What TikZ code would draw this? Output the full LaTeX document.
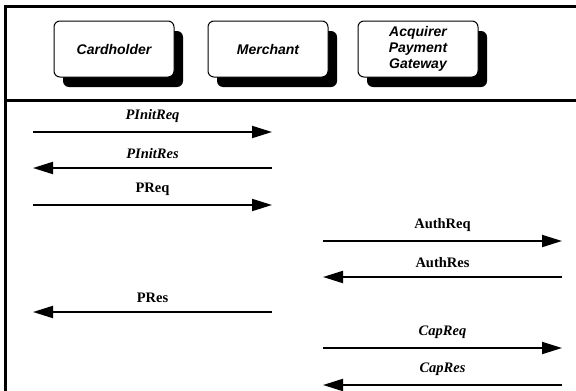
\documentclass[tikz,border=0pt]{standalone}
\usepackage{fontspec}
\setmainfont{Liberation Serif}
\setsansfont{Liberation Sans}
\usetikzlibrary{arrows.meta, shadows, positioning}

\begin{document}
\begin{tikzpicture}[x=1pt, y=-1pt,
            party/.style={rectangle, rounded corners=6pt, draw=black, line width=1pt, fill=white, minimum width=120pt, minimum height=56pt, align=center, font=\sffamily\bfseries\itshape\fontsize{14}{16}\selectfont, drop shadow={shadow xshift=9pt, shadow yshift=-10pt, fill=black, opacity=1}},
            msg/.style={line width=2pt, -{Triangle[length=20pt,width=12pt]}},
            lbl/.style={font=\bfseries\fontsize{14.5}{16}\selectfont, above=5pt},
            ilbl/.style={lbl, font=\bfseries\itshape\fontsize{14.5}{16}\selectfont},
            frame/.style={line width=3pt, line join=miter}
        ]
        \useasboundingbox (0,0) rectangle (576,391);

% Frame
            \draw[frame] (576,6) -- (5,6) -- (5,391);
            \draw[frame] (5,100) -- (576,100);

% Parties
            \node[party] (card) at (114,49) {Cardholder};
            \node[party] (merch) at (268,49) {Merchant};
            \node[party] (gate) at (418,49) {Acquirer\\Payment\\Gateway};

% Message end points
            \coordinate (chA) at (33,132);   \coordinate (meA) at (272,132);
            \coordinate (chB) at (33,168);   \coordinate (meB) at (272,168);
            \coordinate (chC) at (33,205);   \coordinate (meC) at (272,205);
            \coordinate (meD) at (323,241);  \coordinate (gwD) at (562,241);
            \coordinate (meE) at (323,277);  \coordinate (gwE) at (562,277);
            \coordinate (chF) at (33,312);   \coordinate (meF) at (272,312);
            \coordinate (meG) at (323,348);  \coordinate (gwG) at (562,348);
            \coordinate (meH) at (323,385);  \coordinate (gwH) at (562,385);

% Messages
            \draw[msg] (chA) -- node[ilbl] (pinitreq) {PInitReq} (meA);
            \draw[msg] (meB) -- node[ilbl] (pinitres) {PInitRes} (chB);
            \draw[msg] (chC) -- node[lbl] (preq) {PReq} (meC);
            \draw[msg] (meD) -- node[lbl] (authreq) {AuthReq} (gwD);
            \draw[msg] (gwE) -- node[lbl] (authres) {AuthRes} (meE);
            \draw[msg] (meF) -- node[lbl] (pres) {PRes} (chF);
            \draw[msg] (meG) -- node[ilbl] (capreq) {CapReq} (gwG);
            \draw[msg] (gwH) -- node[ilbl] (capres) {CapRes} (meH);

        \end{tikzpicture}
\end{document}
